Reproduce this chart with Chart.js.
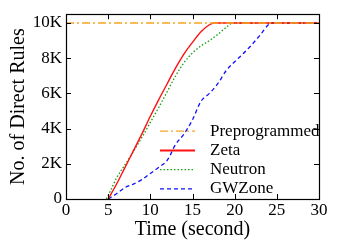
<!DOCTYPE html>
<html>
<head>
<meta charset="utf-8">
<script src="https://cdn.jsdelivr.net/npm/chart.js@4/dist/chart.umd.min.js"></script>
<style>
html,body{margin:0;padding:0;background:#fff;}
#c{display:block;}
</style>
</head>
<body>
<canvas id="c" width="340" height="246"></canvas>
<script>
// ---- data (time in seconds, values = number of direct rules) ----
const seriesNames = ["Preprogrammed", "Zeta", "Neutron", "GWZone"];

const preTime   = [0, 30];
const preValues = [10000, 10000];

const zetaTime   = [5, 6, 7, 8, 9, 10, 11, 12, 13, 14, 15, 16, 17, 17.5, 30];
const zetaValues = [0, 850, 1800, 2750, 3700, 4700, 5650, 6550, 7450, 8250, 8900, 9500, 9900, 10000, 10000];

const neutronTime   = [4.8, 5.5, 6, 7, 8, 9, 10, 11, 12, 13, 14, 15, 16, 17, 18, 19, 19.8, 30];
const neutronValues = [0, 700, 1200, 1950, 2700, 3500, 4350, 5200, 6100, 7000, 7750, 8300, 8700, 9000, 9350, 9750, 10000, 10000];

const gwTime   = [5, 6, 7, 8, 9, 10, 11, 12, 13, 14, 15, 16, 17, 18, 19, 20, 21, 22, 23, 24, 24.5, 30];
const gwValues = [0, 300, 650, 850, 1100, 1450, 1800, 2200, 3100, 3700, 4500, 5550, 6000, 6550, 7300, 7800, 8250, 8750, 9300, 9900, 10000, 10000];

const xTicks = [0, 5, 10, 15, 20, 25, 30];
const yTicks = [0, 2000, 4000, 6000, 8000, 10000];
const xTitle = "Time (second)";
const yTitle = "No. of Direct Rules";

const FONT = "'Liberation Serif', 'Times New Roman', serif";
const toPts = (xs, ys) => xs.map((x, i) => ({x: x, y: ys[i]}));

// inside tick marks on all four sides, frame, and in-plot legend
const framePlugin = {
  id: 'frame',
  afterDraw(chart) {
    const {ctx, chartArea: a, scales} = chart;
    ctx.save();
    ctx.strokeStyle = '#000';
    ctx.lineWidth = 1;
    const tl = 5;
    ctx.beginPath();
    xTicks.forEach(v => {
      const px = Math.round(scales.x.getPixelForValue(v)) + 0.5;
      ctx.moveTo(px, a.bottom); ctx.lineTo(px, a.bottom - tl);
      ctx.moveTo(px, a.top); ctx.lineTo(px, a.top + tl);
    });
    yTicks.forEach(v => {
      const py = Math.round(scales.y.getPixelForValue(v)) + 0.5;
      ctx.moveTo(a.left, py); ctx.lineTo(a.left + tl, py);
      ctx.moveTo(a.right, py); ctx.lineTo(a.right - tl, py);
    });
    ctx.stroke();
    ctx.lineWidth = 1.2;
    ctx.strokeRect(Math.round(a.left) + 0.5, Math.round(a.top) + 0.5,
                   Math.round(a.right - a.left), Math.round(a.bottom - a.top));

    // legend
    ctx.save();
    ctx.beginPath();
    ctx.rect(a.left, a.top, a.right - a.left, a.bottom - a.top);
    ctx.clip();
    const x0 = a.left + 94, x1 = a.left + 129, xt = a.left + 144;
    const y0 = a.top + 117, dy = 19.2;
    ctx.font = "17px " + FONT;
    ctx.textBaseline = 'middle';
    ctx.fillStyle = '#000';
    chart.data.datasets.forEach((ds, i) => {
      const y = y0 + i * dy;
      ctx.beginPath();
      ctx.strokeStyle = ds.borderColor;
      ctx.lineWidth = ds.legendWidth || ds.borderWidth;
      ctx.setLineDash(ds.borderDash || []);
      ctx.moveTo(x0, y); ctx.lineTo(x1, y);
      ctx.stroke();
      ctx.setLineDash([]);
      ctx.fillText(ds.label, xt, y);
    });
    ctx.restore();
    ctx.restore();
  }
};

new Chart(document.getElementById('c'), {
  type: 'line',
  data: {
    datasets: [
      { label: seriesNames[0], data: toPts(preTime, preValues), borderColor: '#f5a623', borderWidth: 1.3, borderDash: [8, 3, 2, 3], pointRadius: 0, fill: false },
      { label: seriesNames[1], data: toPts(zetaTime, zetaValues), borderColor: '#ff1010', borderWidth: 1.4, legendWidth: 2, pointRadius: 0, fill: false, cubicInterpolationMode: 'monotone' },
      { label: seriesNames[2], data: toPts(neutronTime, neutronValues), borderColor: '#13a013', borderWidth: 1.3, borderDash: [1.5, 2], pointRadius: 0, fill: false, cubicInterpolationMode: 'monotone' },
      { label: seriesNames[3], data: toPts(gwTime, gwValues), borderColor: '#1010ff', borderWidth: 1.3, borderDash: [4, 3], pointRadius: 0, fill: false, cubicInterpolationMode: 'monotone' }
    ]
  },
  options: {
    responsive: false,
    animation: false,
    devicePixelRatio: 1,
    layout: { padding: { left: 0, top: 8, right: 21, bottom: 0 } },
    plugins: { legend: { display: false }, tooltip: { enabled: false } },
    scales: {
      x: {
        type: 'linear', min: 0, max: 30,
        afterBuildTicks: s => { s.ticks = xTicks.map(v => ({value: v})); },
        afterFit: s => { s.height = 47; },
        grid: { display: false, drawTicks: false },
        border: { display: false },
        ticks: { padding: 1, color: '#000', font: { family: FONT, size: 17 }, maxRotation: 0 },
        title: { display: true, text: xTitle, color: '#000', font: { family: FONT, size: 20 }, padding: { top: 0, bottom: 4 } }
      },
      y: {
        type: 'linear', min: 0, max: 10500,
        afterBuildTicks: s => { s.ticks = yTicks.map(v => ({value: v})); },
        afterFit: s => { s.width = 66; },
        grid: { display: false, drawTicks: false },
        border: { display: false },
        ticks: { padding: 4, color: '#000', font: { family: FONT, size: 17 },
                 callback: v => v === 0 ? '0' : (v / 1000) + 'K' },
        title: { display: true, text: yTitle, color: '#000', font: { family: FONT, size: 20 }, padding: { top: 7, bottom: 0 } }
      }
    }
  },
  plugins: [framePlugin]
});
</script>
</body>
</html>
